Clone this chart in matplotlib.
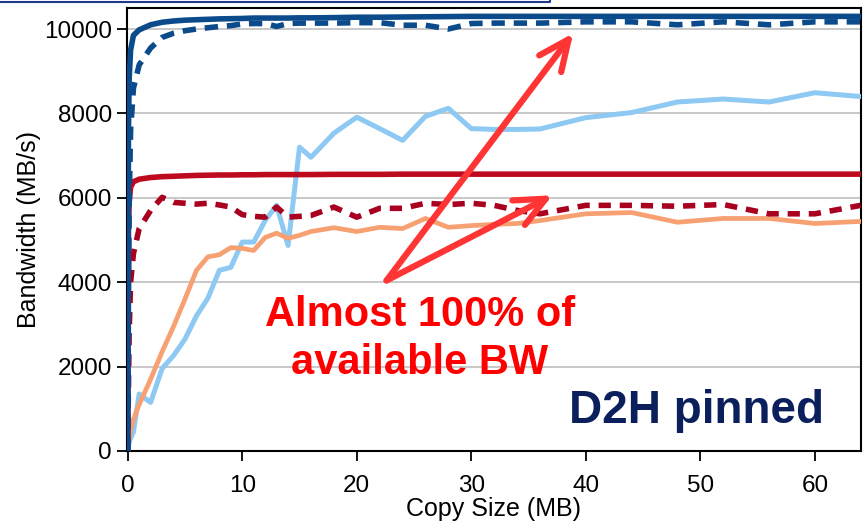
import numpy as np
import matplotlib
matplotlib.use("Agg")
import matplotlib.pyplot as plt
from matplotlib.lines import Line2D

# copy sizes (MB)
x_mb = [0, 0.0625, 0.125, 0.25, 0.5, 1, 2, 3, 4, 5, 6, 7, 8, 9, 10, 11, 12, 13, 14, 15, 16,
        18, 20, 22, 24, 26, 28, 30, 32, 34, 36, 40, 44, 48, 52, 56, 60, 64]

# bandwidth values (MB/s)
blue_solid = [0, 7500, 8800, 9500, 9850, 9980, 10100, 10160, 10190, 10210, 10220, 10230, 10240,
              10245, 10250, 10260, 10260, 10260, 10260, 10265, 10265, 10270, 10280, 10280, 10285,
              10290, 10295, 10300, 10300, 10300, 10300, 10300, 10300, 10300, 10300, 10300, 10300, 10300]
blue_dashed = [0, 3500, 5800, 7600, 8600, 9150, 9550, 9800, 9900, 9960, 10000, 10030, 10060,
               10080, 10120, 10130, 10130, 10060, 10130, 10140, 10140, 10140, 10150, 10150, 10090,
               10090, 10000, 10130, 10140, 10140, 10140, 10170, 10170, 10100, 10170, 10100, 10170, 10170]
light_blue = [0, 100, 200, 300, 450, 1350, 1150, 1950, 2260, 2650, 3200, 3620, 4280, 4350, 4950,
              4950, 5460, 5820, 4870, 7200, 6960, 7530, 7910, 7640, 7360, 7930, 8120, 7640, 7620,
              7620, 7630, 7900, 8020, 8270, 8340, 8270, 8490, 8400]
red_solid = [0, 5200, 5900, 6250, 6380, 6440, 6480, 6500, 6510, 6520, 6530, 6535, 6540, 6540,
             6545, 6545, 6550, 6550, 6550, 6550, 6550, 6555, 6555, 6555, 6560, 6560, 6560, 6560,
             6560, 6560, 6560, 6560, 6560, 6560, 6560, 6560, 6560, 6560]
red_dashed = [0, 1500, 2800, 4000, 4680, 5270, 5700, 6010, 5890, 5870, 5850, 5870, 5830, 5780,
              5600, 5560, 5540, 5780, 5540, 5560, 5580, 5780, 5540, 5750, 5750, 5870, 5840, 5870,
              5820, 5700, 5620, 5820, 5820, 5800, 5840, 5620, 5620, 5820]
orange = [0, 150, 300, 500, 750, 1100, 1700, 2350, 2950, 3600, 4280, 4600, 4650, 4820, 4800,
          4750, 5060, 5160, 5040, 5110, 5200, 5290, 5200, 5300, 5270, 5510, 5300, 5340, 5370,
          5390, 5460, 5620, 5650, 5420, 5510, 5510, 5390, 5440]

y_ticks = [0, 2000, 4000, 6000, 8000, 10000]
x_ticks = [0, 10, 20, 30, 40, 50, 60]

sans = ['Liberation Sans', 'DejaVu Sans']
plt.rcParams['font.family'] = sans

fig = plt.figure(figsize=(8.65, 5.28), dpi=100)
ax = fig.add_axes([0.147, 0.146, 0.848, 0.839])

ax.plot(x_mb, light_blue, color='#8DC9F2', lw=3.6, solid_joinstyle='round', zorder=3)
ax.plot(x_mb, orange, color='#F7A072', lw=3.4, solid_joinstyle='round', zorder=3)
ax.plot(x_mb, red_dashed, color='#A8001E', lw=4, dashes=(2.2, 1.6), zorder=4)
ax.plot(x_mb, red_solid, color='#BE0A1E', lw=4, zorder=4)
ax.plot(x_mb, blue_dashed, color='#0B4A8B', lw=4, dashes=(2.4, 1.6), zorder=5)
ax.plot(x_mb, blue_solid, color='#0B4A8B', lw=4, zorder=5)

ax.set_xlim(-0.05, 64)
ax.set_ylim(0, 10500)
ax.set_xticks(x_ticks)
ax.set_yticks(y_ticks)
ax.grid(axis='y', color='#BFBFBF', lw=1.2)
ax.set_axisbelow(True)
ax.tick_params(length=7, width=1.3, labelsize=17.5, pad=4)
ax.tick_params(axis='x', pad=10)
for s in ax.spines.values():
    s.set_linewidth(1.5)
ax.set_xlabel('Copy Size (MB)', fontsize=18, labelpad=0)
ax.set_ylabel('Bandwidth (MB/s)', fontsize=18, labelpad=2)

# arrows from the note
arrow_kw = dict(arrowstyle='->,head_length=1.0,head_width=0.45', color='#FF3535', lw=4.5,
                mutation_scale=22, shrinkA=0, shrinkB=0, capstyle='round', joinstyle='round')
ax.annotate('', xy=(38.9, 9900), xytext=(22.6, 4040), arrowprops=arrow_kw, zorder=6)
ax.annotate('', xy=(37.1, 6060), xytext=(22.6, 4040), arrowprops=arrow_kw, zorder=6)

ax.text(25.5, 2970, 'Almost 100% of', color='#FF0000', fontsize=30, fontweight='bold',
        ha='center', va='baseline', zorder=7)
ax.text(25.5, 1830, 'available BW', color='#FF0000', fontsize=30, fontweight='bold',
        ha='center', va='baseline', zorder=7)
ax.text(49.7, 665, 'D2H pinned', color='#0A1F5C', fontsize=33, fontweight='bold',
        ha='center', va='baseline', zorder=7)

# slide box edge at the top
fig.add_artist(Line2D([0, 550 / 865, 550 / 865], [1 - 2 / 528, 1 - 2 / 528, 1.0],
                      transform=fig.transFigure, color='#1F3A8A', lw=1.5))

plt.savefig('out.png', dpi=100)
